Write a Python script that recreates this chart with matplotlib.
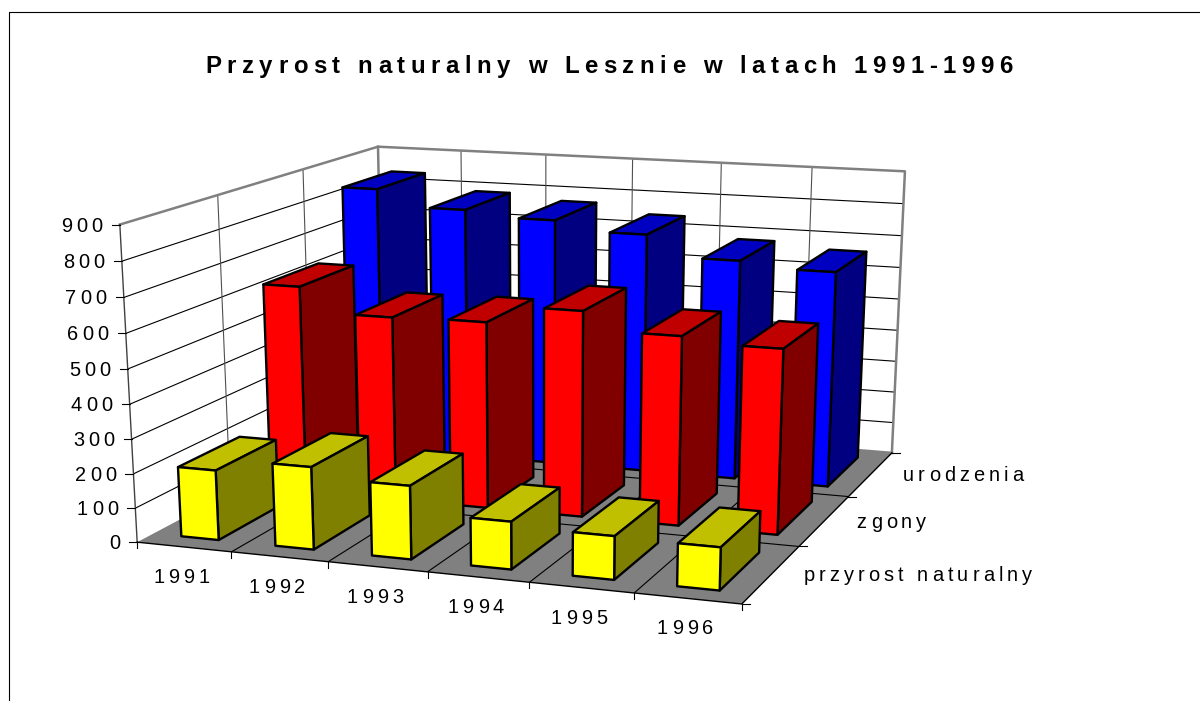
import numpy as np
import matplotlib
matplotlib.use("Agg")
import matplotlib.pyplot as plt
from matplotlib.lines import Line2D
from matplotlib.text import Text
from matplotlib.transforms import IdentityTransform
from mpl_toolkits.mplot3d.art3d import Poly3DCollection

plt.rcParams['font.family'] = ['Liberation Sans', 'DejaVu Sans']

TITLE = "Przyrost naturalny w Lesznie w latach 1991-1996"
years = ["1991", "1992", "1993", "1994", "1995", "1996"]
series_names = ["przyrost naturalny", "zgony", "urodzenia"]
przyrost = [204, 239, 211, 136, 123, 120]
zgony = [626, 553, 558, 610, 557, 541]
urodzenia = [835, 785, 768, 740, 677, 660]
z_ticks = [0, 100, 200, 300, 400, 500, 600, 700, 800, 900]

W, H = 1200, 701
N_X, N_Y, Z_MAX = len(years), len(series_names), z_ticks[-1]
BAR_X = 0.3   # gap on each side of a bar, in category units
BAR_Y = 1 / 6

# where known box points land in the image, used to fit the camera
calib = [
    ((0, 0, 0), (138, 542)), ((1, 0, 0), (231, 552)), ((2, 0, 0), (328, 562)),
    ((3, 0, 0), (427, 572)), ((4, 0, 0), (528, 583)), ((5, 0, 0), (636, 593)),
    ((6, 0, 0), (742, 603)), ((6, 1, 0), (799, 546)), ((6, 2, 0), (848, 497)),
    ((6, 3, 0), (892, 453)), ((0, 0, 900), (119, 225)), ((0, 0, 800), (122, 262)),
    ((0, 0, 700), (124, 296)), ((0, 0, 600), (126, 333)), ((0, 1, 900), (218, 196)),
    ((0, 2, 900), (303, 169)), ((0, 3, 900), (378, 146)), ((3, 3, 900), (632, 159)),
    ((4, 3, 900), (723, 163)), ((5, 3, 900), (811, 167)), ((6, 3, 900), (905, 171)),
]


def fit_camera(points):
    rows = []
    for (x, y, z), (u, v) in points:
        p = [x / N_X, y / N_Y, z / Z_MAX, 1]
        u, v = u / 1000, (H - v) / 1000
        rows.append(p + [0, 0, 0, 0] + [-u * c for c in p])
        rows.append([0, 0, 0, 0] + p + [-v * c for c in p])
    vt = np.linalg.svd(np.array(rows))[2]
    cam = vt[-1].reshape(3, 4) @ np.diag([1 / N_X, 1 / N_Y, 1 / Z_MAX, 1])
    cam[:2] *= 1000
    return cam


CAM = fit_camera(calib)


def to_pixels(x, y, z):
    u, v, w = CAM @ np.array([x, y, z, 1.0])
    return u / w, v / w


class SpacedText(Text):
    """Text with extra room between the letters, positioned by its left end"""

    def __init__(self, x, y, text, spacing=0, **kwargs):
        super().__init__(x, y, text, transform=IdentityTransform(), **kwargs)
        self.spacing = spacing

    def draw(self, renderer):
        fp = self.get_fontproperties()
        base = renderer.get_text_width_height_descent("nn", fp, False)[0]
        adv = [renderer.get_text_width_height_descent("n" + c + "n", fp, False)[0] - base
               for c in self.get_text()]
        total = sum(adv) + self.spacing * (len(adv) - 1)
        x0 = self.get_position()[0]
        if self.get_ha() == "center":
            x0 -= total / 2
        elif self.get_ha() == "right":
            x0 -= total
        for c, a in zip(self.get_text(), adv):
            t = Text(x0, self.get_position()[1], c, fontproperties=fp, color=self.get_color(),
                     ha="left", va="baseline", transform=IdentityTransform())
            t.set_figure(self.get_figure())
            t.draw(renderer)
            x0 += a + self.spacing


fig = plt.figure(figsize=(W / 100, H / 100), dpi=100)
side = W / H
ax = fig.add_axes([0, (1 - side) / 2, 1, side], projection="3d")
ax.set_axis_off()
ax.computed_zorder = False
ax.patch.set_alpha(0)
ax.set_proj_type("ortho")  # keeps Line3D from clipping, the camera below does the perspective


def get_proj():
    a = ax.transData.inverted().get_matrix()
    h = a @ CAM
    return np.vstack([h[0], h[1], [0, 1, 0, 0], h[2]])


ax.get_proj = get_proj

GRID = dict(color="black", lw=0.8, zorder=2, solid_capstyle="butt")
GRID_V = dict(color="#505050", lw=0.8, zorder=2, solid_capstyle="butt")
WALL = dict(color="#808080", lw=1.8, zorder=3)

# floor
floor = [[(0, 0, 0), (N_X, 0, 0), (N_X, N_Y, 0), (0, N_Y, 0)]]
ax.add_collection3d(Poly3DCollection(floor, facecolors="#808080", edgecolors="none", zorder=1))

# wall and floor grid
for v in z_ticks[1:-1]:
    ax.plot([0, 0, N_X], [0, N_Y, N_Y], [v, v, v], **GRID)
for i in range(1, N_X):
    ax.plot([i, i], [0, N_Y], [0, 0], **GRID)
    ax.plot([i, i], [N_Y, N_Y], [0, Z_MAX], **GRID_V)
for j in range(1, N_Y):
    ax.plot([0, N_X], [j, j], [0, 0], **GRID)
    ax.plot([0, 0], [j, j], [0, Z_MAX], **GRID_V)
ax.plot([0, 0, N_X, N_X], [0, N_Y, N_Y, N_Y], [Z_MAX, Z_MAX, Z_MAX, 0], **WALL)
ax.plot([0, N_X], [N_Y, N_Y], [0, 0], **WALL)
ax.plot([0, 0], [N_Y, N_Y], [0, Z_MAX], **WALL)
ax.plot([0, 0], [0, 0], [0, Z_MAX], color="#404040", lw=1.0, zorder=3)
ax.plot([0, N_X, N_X], [0, 0, N_Y], [0, 0, 0], color="black", lw=1.0, zorder=3)

# bars, back row first, left to right
rows = [(urodzenia, 2, ("#0000ff", "#000080", "#0000c0")),
        (zgony, 1, ("#ff0000", "#800000", "#c00000")),
        (przyrost, 0, ("#ffff00", "#808000", "#c0c000"))]
order = 10
for values, j, colors in rows:
    for i, val in enumerate(values):
        x0, x1 = i + BAR_X, i + 1 - BAR_X
        y0, y1 = j + BAR_Y, j + 1 - BAR_Y
        faces = [[(x0, y0, 0), (x1, y0, 0), (x1, y0, val), (x0, y0, val)],
                 [(x1, y0, 0), (x1, y1, 0), (x1, y1, val), (x1, y0, val)],
                 [(x0, y0, val), (x1, y0, val), (x1, y1, val), (x0, y1, val)]]
        ax.add_collection3d(Poly3DCollection(faces, facecolors=colors, edgecolors="black",
                                             linewidths=1.7, zorder=order))
        order += 1


def label(x, y, text, size=14.4, spacing=4.1, **kwargs):
    fig.add_artist(SpacedText(x, y, text, spacing=spacing, fontsize=size, color="black", **kwargs))


def tick(p0, p1, color="black"):
    fig.add_artist(Line2D([p0[0], p1[0]], [p0[1], p1[1]], color=color, lw=0.8,
                          transform=IdentityTransform()))


# value axis
for v in z_ticks:
    u, w = to_pixels(0, 0, v)
    tick((u - 8, w), (u, w))
    label(u - 17, w - 7, str(v), ha="right")

# category axis
for i, year in enumerate(years):
    u, w = to_pixels(i, 0, 0)
    tick((u, w), (u, w - 6))
    u, w = to_pixels(i + 0.5, 0, 0)
    label(u - 2.5, w - 36, year, ha="center")
u, w = to_pixels(N_X, 0, 0)
tick((u, w), (u, w - 6))

# series axis
for j, name in enumerate(series_names):
    u, w = to_pixels(N_X, j, 0)
    tick((u, w), (u + 8, w))
    u, w = to_pixels(N_X, j + 0.5, 0)
    label(u + 32, w - 7, name, ha="left")
u, w = to_pixels(N_X, N_Y, 0)
tick((u, w), (u + 8, w))

# title
label(609, H - 73, TITLE, size=17.3, spacing=5.53, ha="center", fontweight="bold")

# chart frame, open at the right and at the bottom
fig.add_artist(Line2D([9, 9, W], [0, H - 12, H - 12], color="black", lw=0.8,
                      transform=IdentityTransform()))

fig.savefig("out.png", dpi=100)
